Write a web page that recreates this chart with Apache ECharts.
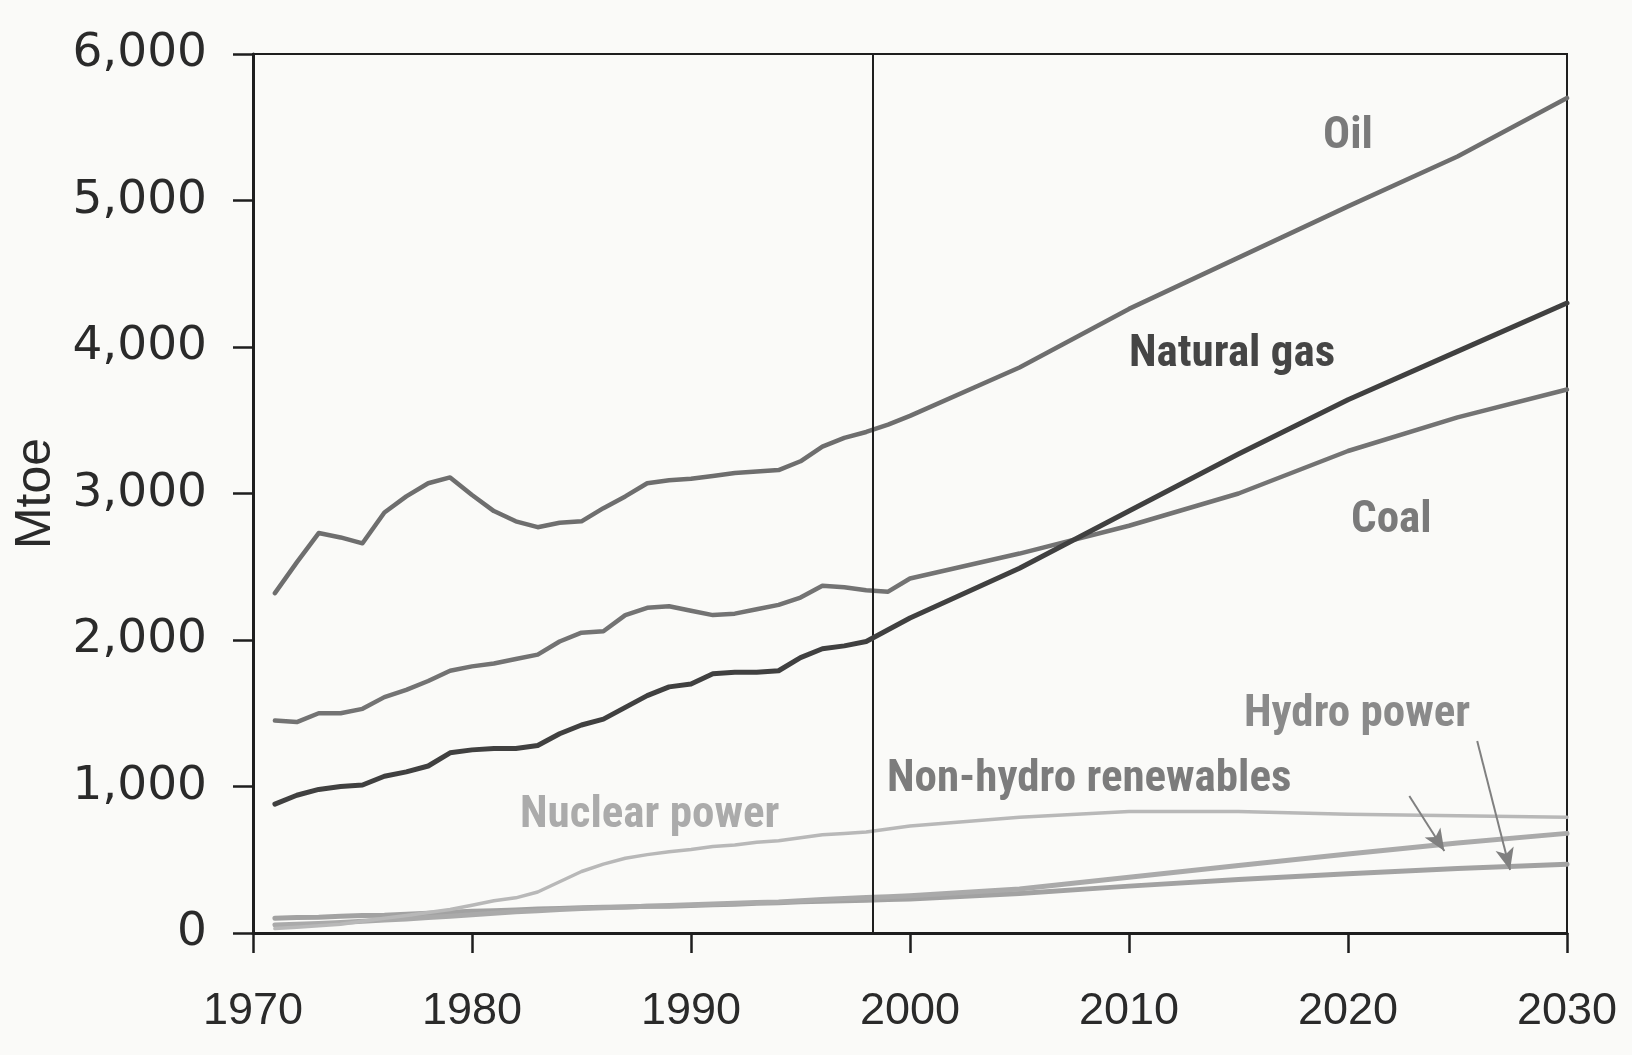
<!DOCTYPE html>
<html>
<head>
<meta charset="utf-8">
<script src="https://cdn.jsdelivr.net/npm/echarts@6/dist/echarts.min.js"></script>
<style>
html,body{margin:0;padding:0;background:#fafaf8;}
#chart{width:1632px;height:1055px;}
</style>
</head>
<body>
<div id="chart"></div>
<script>
// Years (historical annual, then projections)
const years = [1971,1972,1973,1974,1975,1976,1977,1978,1979,1980,
  1981,1982,1983,1984,1985,1986,1987,1988,1989,1990,
  1991,1992,1993,1994,1995,1996,1997,1998,1999,2000,
  2005,2010,2015,2020,2025,2030];

const oil = [2320,2530,2730,2700,2660,2870,2980,3070,3110,2990,
  2880,2810,2770,2800,2810,2900,2980,3070,3090,3100,
  3120,3140,3150,3160,3220,3320,3380,3420,3470,3530,
  3860,4260,4610,4960,5300,5700];

const gas = [880,940,980,1000,1010,1070,1100,1140,1230,1250,
  1260,1260,1280,1360,1420,1460,1540,1620,1680,1700,
  1770,1780,1780,1790,1880,1940,1960,1990,2070,2150,
  2490,2880,3270,3640,3970,4300];

const coal = [1450,1440,1500,1500,1530,1610,1660,1720,1790,1820,
  1840,1870,1900,1990,2050,2060,2170,2220,2230,2200,
  2170,2180,2210,2240,2290,2370,2360,2340,2330,2420,
  2590,2780,3000,3290,3520,3710];

const nuclear = [30,40,50,60,80,100,120,140,160,190,
  220,240,280,350,420,470,510,535,555,570,
  590,600,620,630,650,670,680,690,710,730,
  790,830,830,810,800,790];

const hydro = [100,105,108,115,120,122,128,135,142,148,
  152,157,163,168,172,175,178,182,183,188,
  193,196,203,206,213,216,220,224,228,232,
  270,320,365,405,440,470];

const nonHydro = [55,60,65,72,80,88,96,105,115,125,
  135,145,152,160,168,172,178,182,187,192,
  198,203,208,212,220,228,236,242,248,255,
  300,380,460,540,615,680];

const yTicks = [0,1000,2000,3000,4000,5000,6000];
const xTicks = [1970,1980,1990,2000,2010,2020,2030];
const splitYear = 1998.3;

const pairs = arr => years.map((y, i) => [y, arr[i]]);

const chart = echarts.init(document.getElementById('chart'));
const narrow = "'Liberation Sans Narrow','Roboto Condensed','DejaVu Sans Condensed','Liberation Sans',sans-serif";

function lineSeries(name, data, color, width, z) {
  return {
    name, type: 'line', data: pairs(data), showSymbol: false, symbol: 'none',
    lineStyle: { color, width, cap: 'round', join: 'round' }, z: z || 2, animation: false
  };
}

const series = [
  lineSeries('Hydro power', hydro, '#a2a2a2', 5, 2),
  lineSeries('Non-hydro renewables', nonHydro, '#aaaaaa', 5, 2),
  lineSeries('Nuclear power', nuclear, '#b8b8b8', 3.5, 3),
  lineSeries('Coal', coal, '#737373', 4.5, 4),
  lineSeries('Oil', oil, '#6e6e6e', 4.5, 4),
  lineSeries('Natural gas', gas, '#404040', 5, 5)
];

// Vertical divider and annotation arrows
series.push({
  type: 'line', data: [], animation: false,
  markLine: {
    silent: true, symbol: 'none', animation: false,
    label: { show: false },
    lineStyle: { color: '#1e1e1e', width: 2, type: 'solid' },
    data: [{ xAxis: splitYear }]
  }
});
series.push({
  type: 'line', data: [], animation: false,
  markLine: {
    silent: true, animation: false,
    symbol: ['none', 'arrow'], symbolSize: [14, 22],
    label: { show: false },
    lineStyle: { color: '#808080', width: 2, type: 'solid' },
    data: [
      [{ coord: [2022.8, 935] }, { coord: [2024.4, 560] }],
      [{ coord: [2025.9, 1310] }, { coord: [2027.4, 430] }]
    ]
  }
});

const labelFont = 'bold 45px ' + narrow;

chart.setOption({
  backgroundColor: '#fafaf8',
  animation: false,
  grid: { left: 253, right: 65, top: 54, bottom: 122, show: true, borderColor: '#1e1e1e', borderWidth: 2, backgroundColor: 'transparent' },
  xAxis: {
    type: 'value', min: 1970, max: 2030, interval: 10,
    axisLine: { show: true, onZero: false, lineStyle: { color: '#1e1e1e', width: 3 } },
    axisTick: { show: true, length: 20, lineStyle: { color: '#1e1e1e', width: 2.5 } },
    splitLine: { show: false },
    axisLabel: { formatter: v => String(v), color: '#2a2a2a', fontSize: 45, fontFamily: "'Liberation Sans',Arial,sans-serif", margin: 56 }
  },
  yAxis: {
    type: 'value', min: 0, max: 6000, interval: 1000,
    name: 'Mtoe', nameLocation: 'middle', nameRotate: 90, nameGap: 192,
    nameTextStyle: { color: '#2a2a2a', fontSize: 50, fontFamily: "'Liberation Sans',Arial,sans-serif" },
    axisLine: { show: true, lineStyle: { color: '#1e1e1e', width: 3 } },
    axisTick: { show: true, length: 20, lineStyle: { color: '#1e1e1e', width: 2.5 } },
    splitLine: { show: false },
    axisLabel: { formatter: v => v.toLocaleString('en-US'), color: '#2a2a2a', fontSize: 47, fontFamily: "'DejaVu Sans',sans-serif", margin: 46 }
  },
  series,
  graphic: [
    { type: 'text', left: 1323, top: 114, style: { text: 'Oil', font: labelFont, fill: '#7a7a7a' } },
    { type: 'text', left: 1129, top: 332, style: { text: 'Natural gas', font: labelFont, fill: '#454545' } },
    { type: 'text', left: 1351, top: 498, style: { text: 'Coal', font: labelFont, fill: '#7a7a7a' } },
    { type: 'text', left: 1244, top: 692, style: { text: 'Hydro power', font: labelFont, fill: '#8a8a8a' } },
    { type: 'text', left: 887, top: 757, style: { text: 'Non-hydro renewables', font: labelFont, fill: '#7c7c7c' } },
    { type: 'text', left: 520, top: 793, style: { text: 'Nuclear power', font: labelFont, fill: '#ababab' } }
  ]
});
</script>
</body>
</html>
